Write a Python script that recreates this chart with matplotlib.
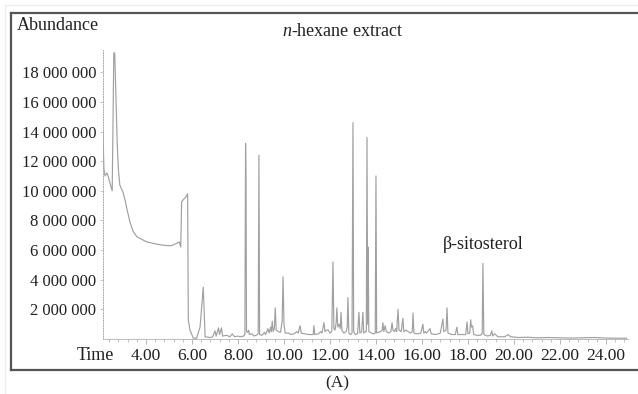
import matplotlib
matplotlib.use("Agg")
import matplotlib.pyplot as plt
from matplotlib.lines import Line2D

plt.rcParams['font.family'] = ['Liberation Serif', 'DejaVu Serif']
plt.rcParams['mathtext.fontset'] = 'custom'
plt.rcParams['mathtext.it'] = 'Liberation Serif:italic'
plt.rcParams['mathtext.rm'] = 'Liberation Serif'

# chromatogram trace: time (min), abundance (millions)
time = [2.13, 2.17, 2.22, 2.30, 2.35, 2.48, 2.53, 2.57, 2.60, 2.64, 2.70, 2.75, 2.80, 2.86,
        3.00, 3.10, 3.18, 3.30, 3.43, 3.60, 4.03, 4.46, 4.90, 5.12, 5.33, 5.45, 5.51, 5.55, 5.62,
        5.74, 5.81, 5.84, 5.91, 6.06, 6.20, 6.35, 6.49, 6.57, 6.80, 6.90, 7.00, 7.05, 7.15,
        7.20, 7.28, 7.33, 7.50, 7.65, 7.75, 7.85, 8.00, 8.10, 8.25,
        8.30, 8.33, 8.35, 8.37, 8.42, 8.46, 8.50, 8.60, 8.70, 8.85, 8.88, 8.91, 8.94, 9.05,
        9.15, 9.20, 9.30, 9.35, 9.42, 9.45, 9.49, 9.53, 9.58, 9.62, 9.66, 9.75, 9.85, 9.92,
        9.96, 10.00, 10.05, 10.20, 10.30, 10.45, 10.55, 10.62, 10.70, 10.75, 10.90, 11.10,
        11.27, 11.30, 11.34, 11.50, 11.60, 11.65, 11.74, 11.78, 11.85, 11.93, 12.00, 12.08,
        12.13, 12.17, 12.22, 12.27, 12.30, 12.34, 12.40, 12.45, 12.48, 12.52, 12.60, 12.70,
        12.75, 12.78, 12.82, 12.90, 12.96, 13.00, 13.03, 13.10, 13.20, 13.26, 13.30, 13.38,
        13.43, 13.47, 13.55, 13.58, 13.61, 13.64, 13.66, 13.69, 13.80, 13.90, 13.97, 14.00,
        14.03, 14.10, 14.20, 14.27, 14.30, 14.34, 14.40, 14.45, 14.55, 14.65, 14.70, 14.74,
        14.80, 14.86, 14.90, 14.96, 15.00, 15.10, 15.17, 15.21, 15.30, 15.40, 15.50, 15.58,
        15.61, 15.65, 15.80, 15.95, 16.04, 16.08, 16.15, 16.20, 16.35, 16.40, 16.60, 16.80,
        16.91, 16.95, 17.05, 17.09, 17.13, 17.30, 17.45, 17.52, 17.56, 17.75, 17.90, 17.96,
        18.00, 18.08, 18.12, 18.15, 18.20, 18.25, 18.40, 18.55, 18.62, 18.65, 18.69, 18.85,
        18.98, 19.04, 19.08, 19.15, 19.20, 19.30, 19.60, 19.75, 19.85, 20.20, 20.60, 21.00,
        21.50, 22.00, 22.50, 23.00, 23.50, 24.00, 24.90]
abundance = [14.0, 11.5, 11.0, 11.2, 11.0, 10.25, 10.0, 15.0, 19.3, 19.3, 16.0, 13.1, 11.4, 10.4,
             9.9, 9.3, 8.7, 7.9, 7.3, 6.9, 6.55, 6.4, 6.3, 6.3, 6.45, 6.55, 6.2, 9.25, 9.4,
             9.6, 9.8, 1.3, 0.6, 0.05, 0.05, 0.8, 3.5, 0.15, 0.1, 0.15, 0.55, 0.2, 0.75,
             0.3, 0.75, 0.2, 0.25, 0.15, 0.35, 0.15, 0.2, 0.15, 0.2,
             0.3, 13.2, 10.7, 0.5, 0.45, 0.6, 0.3, 0.35, 0.2, 0.3, 0.4, 12.4, 0.3, 0.25,
             0.45, 0.3, 0.7, 0.4, 0.8, 0.5, 1.2, 0.5, 0.7, 2.1, 0.6, 0.5, 0.45, 1.2,
             4.2, 1.0, 0.4, 0.4, 0.3, 0.35, 0.5, 0.4, 0.9, 0.4, 0.35, 0.3,
             0.3, 0.9, 0.3, 0.35, 0.5, 0.4, 1.1, 0.5, 0.6, 0.6, 0.4, 0.5,
             5.2, 0.7, 0.6, 1.1, 2.1, 0.8, 1.0, 0.7, 1.8, 0.6, 0.4, 0.5,
             0.8, 2.8, 0.4, 0.3, 0.4, 14.6, 0.5, 0.3, 0.35, 1.8, 0.4, 0.5,
             1.8, 0.4, 0.5, 0.5, 13.6, 1.0, 6.2, 0.5, 0.4, 0.35, 0.4, 11.0,
             0.4, 0.45, 0.5, 0.6, 1.1, 0.5, 0.9, 0.5, 0.4, 0.5, 1.1, 0.6,
             0.5, 0.7, 0.5, 2.0, 0.6, 0.5, 1.4, 0.5, 0.6, 0.5, 0.4, 0.5,
             1.75, 0.4, 0.35, 0.4, 1.0, 0.4, 0.5, 0.4, 0.7, 0.35, 0.3, 0.4,
             1.35, 0.5, 0.6, 2.1, 0.4, 0.3, 0.3, 0.8, 0.3, 0.3, 0.3, 1.15,
             0.35, 0.4, 1.3, 0.8, 0.9, 0.3, 0.25, 0.25, 0.4, 5.1, 0.3, 0.2,
             0.25, 0.55, 0.2, 0.35, 0.3, 0.15, 0.15, 0.3, 0.15, 0.1, 0.12, 0.08,
             0.1, 0.08, 0.06, 0.08, 0.1, 0.06, 0.05]

x_ticks = [4, 6, 8, 10, 12, 14, 16, 18, 20, 22, 24]
y_ticks = [2, 4, 6, 8, 10, 12, 14, 16, 18]
y_labels = ["2 000 000", "4 000 000", "6 000 000", "8 000 000", "10 000 000",
            "12 000 000", "14 000 000", "16 000 000", "18 000 000"]

W, H = 638, 394
fig = plt.figure(figsize=(W / 100, H / 100), dpi=100)
ax = fig.add_axes([103 / W, (H - 339) / H, (628 - 103) / W, (339 - 50) / H])

ax.plot(time, abundance, color='#a0a0a0', lw=0.85)
ax.set_xlim(2.13, 24.96)
ax.set_ylim(0, 19.5)

txt = '#231f20'
ax.set_xticks(x_ticks)
ax.set_xticklabels(["%.2f" % v for v in x_ticks])
ax.set_xticks([t / 10 for t in range(24, 250, 4)], minor=True)
ax.set_yticks(y_ticks)
ax.set_yticklabels(y_labels)
ax.tick_params(axis='x', which='major', length=3.5, width=0.6, color='#aaaaaa',
               labelsize=12.5, labelcolor=txt, pad=3)
ax.tick_params(axis='x', which='minor', length=2, width=0.5, color='#aaaaaa')
ax.tick_params(axis='y', which='major', length=2, width=0.6, color='#bbbbbb',
               labelsize=12, labelcolor=txt, pad=3)

for s in ['top', 'right']:
    ax.spines[s].set_visible(False)
ax.spines['bottom'].set_color('#bbbbbb')
ax.spines['bottom'].set_linewidth(0.7)
ax.spines['left'].set_color('#aaaaaa')
ax.spines['left'].set_linewidth(0.7)
ax.spines['left'].set_linestyle(':')

# text
fig.text(17 / W, 1 - 25 / H, "Abundance", fontsize=13, color=txt, va='center', ha='left')
fig.text(343 / W, 1 - 32 / H, r"$n$-hexane extract", fontsize=13, color=txt,
         va='center', ha='center')
ax.text(18.65, 6.4, "β-sitosterol", fontsize=13, color=txt, ha='center', va='center')
fig.text(95 / W, 1 - 355 / H, "Time", fontsize=13, color=txt, va='center', ha='center')
fig.text(337 / W, 1 - 383 / H, "(A)", fontsize=12.5, color=txt, va='center', ha='center')

# outer frame
def fl(x0, y0, x1, y1, c, lw):
    fig.add_artist(Line2D([x0 / W, x1 / W], [1 - y0 / H, 1 - y1 / H], color=c, lw=lw,
                          transform=fig.transFigure))

fl(5, 5, W, 5, '#eeeeee', 1)
fl(5, 5, 5, H, '#eeeeee', 1)
fl(11, 13, W + 2, 13, '#555555', 1.6)
fl(11, 13, 11, 370, '#555555', 1.6)
fl(11, 370, W + 2, 370, '#555555', 1.6)

fig.savefig("out.png", dpi=100)
